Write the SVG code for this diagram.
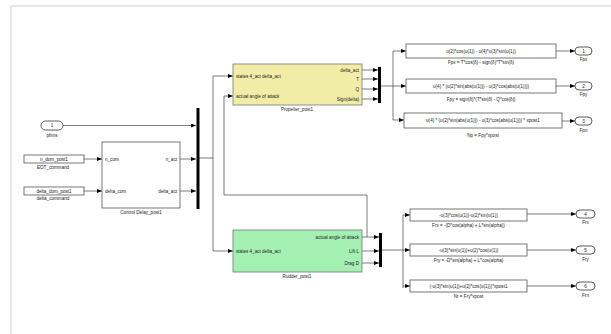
<svg xmlns="http://www.w3.org/2000/svg" width="611" height="334" viewBox="0 0 611 334">
<defs>
<marker id="ah" markerWidth="5" markerHeight="4" refX="5" refY="2" orient="auto" markerUnits="userSpaceOnUse"><path d="M0,0 L5,2 L0,4 Z" fill="#000"/></marker>
<style>
text{font-family:"Liberation Sans",Arial,sans-serif;font-size:4.6px;fill:#222}
.c{text-anchor:middle}
.e{text-anchor:end}
.blk{fill:#fff;stroke:#555;stroke-width:0.8}
.port{fill:#fff;stroke:#333;stroke-width:0.8}
.bar{fill:#000}
.ln{fill:none;stroke:#444;stroke-width:0.7}
.ar{fill:none;stroke:#444;stroke-width:0.7;marker-end:url(#ah)}
.frame{fill:none;stroke:#d0d0d0;stroke-width:1}
</style>
</defs>
<rect width="611" height="334" fill="#fff"/>
<path class="frame" d="M11,334 V6 H611"/>

<g id="connectors">
<path class="ar" d="M63,125.5 H196"/>
<path class="ar" d="M84,159 H102"/>
<path class="ar" d="M84,191 H102"/>
<path class="ar" d="M180,159 H196"/>
<path class="ar" d="M180,191 H196"/>
<path class="ln" d="M199,158 H213 M213,76 V251"/>
<path class="ar" d="M213,76 H233"/>
<path class="ar" d="M213,251 H233"/>
<path class="ar" d="M362,70 H378"/>
<path class="ar" d="M362,79 H378"/>
<path class="ar" d="M362,89 H378"/>
<path class="ar" d="M362,99 H378"/>
<path class="ln" d="M381,86 H393 M393,51 V120"/>
<path class="ar" d="M393,51 H406"/>
<path class="ar" d="M393,86 H406"/>
<path class="ar" d="M393,120 H404"/>
<path class="ar" d="M556,51 H575"/>
<path class="ar" d="M556,86 H575"/>
<path class="ar" d="M562,121 H575"/>
<path class="ar" d="M362,237 H379"/>
<path class="ar" d="M362,251 H379"/>
<path class="ar" d="M362,263 H379"/>
<path class="ar" d="M367,237 V195 H224 V96 H233"/>
<path class="ln" d="M382,250 H403 M403,215 V288"/>
<path class="ar" d="M403,215 H410"/>
<path class="ar" d="M403,250 H410"/>
<path class="ar" d="M403,286 H410"/>
<path class="ar" d="M527,214 H576"/>
<path class="ar" d="M527,250 H576"/>
<path class="ar" d="M527,286 H576"/>
</g>

<g id="in1">
<rect class="port" x="41" y="121" width="22" height="9" rx="4.5"/>
<text class="c" x="52" y="127.3">1</text>
<text class="c" x="52" y="137">phins</text>
</g>

<g id="from_n">
<rect class="blk" x="24" y="155" width="60" height="8"/>
<text class="c" x="54" y="160.8">n_dom_post1</text>
<text class="c" x="53" y="169">EOT_command</text>
</g>
<g id="from_delta">
<rect class="blk" x="24" y="187" width="60" height="8"/>
<text class="c" x="54" y="192.8">delta_dom_post1</text>
<text class="c" x="53" y="200">delta_command</text>
</g>

<g id="control_delay">
<rect class="blk" x="102" y="142" width="78" height="66"/>
<text x="105" y="160.5">n_com</text>
<text x="105" y="192.5">delta_com</text>
<text class="e" x="177" y="160.5">n_act</text>
<text class="e" x="177" y="192.5">delta_act</text>
<text class="c" x="141" y="214">Control Delay_post1</text>
</g>

<g id="bus1"><rect class="bar" x="196.5" y="108" width="3" height="101"/></g>

<g id="propeller">
<rect x="233" y="64" width="129" height="41" fill="#f1eda6" stroke="#777" stroke-width="0.8"/>
<text x="236" y="77.5">states 4_act delta_act</text>
<text x="236" y="97.5">actual angle of attack</text>
<text class="e" x="359" y="71.5">delta_act</text>
<text class="e" x="359" y="80.5">T</text>
<text class="e" x="359" y="90.5">Q</text>
<text class="e" x="359" y="100.5">Sign(delta)</text>
<text class="c" x="297" y="111">Propeller_post1</text>
</g>

<g id="bus2"><rect class="bar" x="378" y="67" width="3" height="36"/></g>

<g id="fcn1">
<rect class="blk" x="406" y="44" width="150" height="14"/>
<text class="c" x="481" y="52.5">u(2)*cos(u(1)) - u(4)*u(3)*sin(u(1))</text>
<text class="c" x="481" y="64">Fpx = T*cos(δ) - sign(δ)*T*sin(δ)</text>
</g>
<g id="fcn2">
<rect class="blk" x="406" y="79" width="150" height="14"/>
<text class="c" x="481" y="87.5">u(4) * (u(2)*sin(abs(u(1))) - u(3)*cos(abs(u(1))))</text>
<text class="c" x="481" y="101">Fpy = sign(δ)*(T*sin|δ| - Q*cos|δ|)</text>
</g>
<g id="fcn3">
<rect class="blk" x="404" y="113" width="158" height="15"/>
<text class="c" x="483" y="122">u(4) * (u(2)*sin(abs(u(1))) - u(3)*cos(abs(u(1)))) * xpost1</text>
<text class="c" x="483" y="137">Np = Fpy*xpost</text>
</g>

<g id="out1">
<rect class="port" x="575" y="47" width="17" height="8" rx="4"/>
<text class="c" x="583.5" y="52.8">1</text>
<text class="c" x="583.5" y="61">Fpx</text>
</g>
<g id="out2">
<rect class="port" x="575" y="82" width="17" height="8" rx="4"/>
<text class="c" x="583.5" y="87.8">2</text>
<text class="c" x="583.5" y="96">Fpy</text>
</g>
<g id="out3">
<rect class="port" x="575" y="117" width="17" height="8" rx="4"/>
<text class="c" x="583.5" y="122.8">3</text>
<text class="c" x="583.5" y="132">Fpn</text>
</g>

<g id="rudder">
<rect x="233" y="230" width="129" height="42" fill="#a4efb2" stroke="#777" stroke-width="0.8"/>
<text x="236" y="252.5">states 4_act delta_act</text>
<text class="e" x="359" y="238.5">actual angle of attack</text>
<text class="e" x="359" y="252.5">Lift L</text>
<text class="e" x="359" y="264.5">Drag D</text>
<text class="c" x="297" y="278">Rudder_post1</text>
</g>

<g id="bus3"><rect class="bar" x="379" y="233" width="3" height="34"/></g>

<g id="fcn4">
<rect class="blk" x="410" y="209" width="117" height="12"/>
<text class="c" x="468.5" y="216.5">-u(3)*cos(u(1))-u(2)*sin(u(1))</text>
<text class="c" x="468.5" y="227">Frx = -(D*cos(alpha) + L*sin(alpha))</text>
</g>
<g id="fcn5">
<rect class="blk" x="410" y="244" width="117" height="12"/>
<text class="c" x="468.5" y="251.5">-u(3)*sin(u(1))+u(2)*cos(u(1))</text>
<text class="c" x="468.5" y="262">Fry = -D*sin(alpha) + L*cos(alpha)</text>
</g>
<g id="fcn6">
<rect class="blk" x="410" y="280" width="117" height="12"/>
<text class="c" x="468.5" y="287.5">(-u(3)*sin(u(1))+u(2)*cos(u(1)))*xpost1</text>
<text class="c" x="468.5" y="298">Nr = Fry*xpost</text>
</g>

<g id="out4">
<rect class="port" x="576" y="210" width="19" height="8" rx="4"/>
<text class="c" x="585.5" y="215.8">4</text>
<text class="c" x="585.5" y="224">Frx</text>
</g>
<g id="out5">
<rect class="port" x="576" y="246" width="19" height="8" rx="4"/>
<text class="c" x="585.5" y="251.8">5</text>
<text class="c" x="585.5" y="261">Fry</text>
</g>
<g id="out6">
<rect class="port" x="576" y="282" width="19" height="8" rx="4"/>
<text class="c" x="585.5" y="287.8">6</text>
<text class="c" x="585.5" y="297">Frn</text>
</g>
</svg>
